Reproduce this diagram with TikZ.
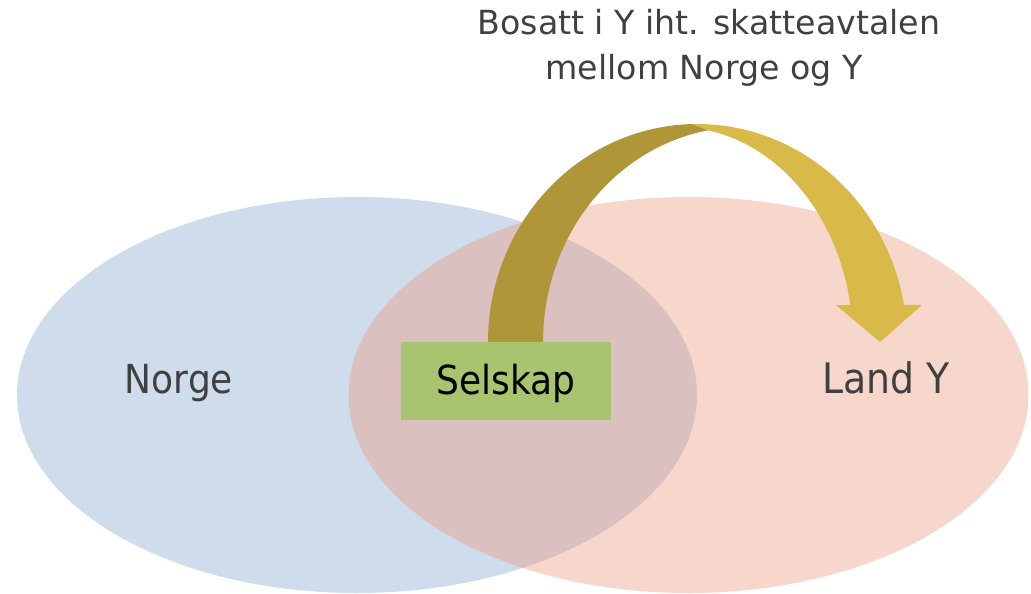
\documentclass[tikz,border=0pt]{standalone}
\usepackage{fontspec}
\setmainfont{DejaVu Sans Condensed}
\newfontfamily\titlefont{DejaVu Sans}
\usetikzlibrary{shapes.geometric}
\definecolor{blueC}{RGB}{207,220,235}
\definecolor{pinkC}{RGB}{235,152,125}
\definecolor{arrowDark}{RGB}{175,150,56}
\definecolor{arrowLight}{RGB}{217,185,72}
\definecolor{boxGreen}{RGB}{169,196,110}
\definecolor{txtGrey}{RGB}{64,64,64}
\tikzset{
  region/.style={ellipse, minimum width=680pt, minimum height=396pt, inner sep=0pt, outer sep=0pt},
  label/.style={text=txtGrey, font=\fontsize{40}{48}\selectfont, inner sep=0pt, anchor=base},
  titletext/.style={text=txtGrey, font=\titlefont\fontsize{33.2}{45}\selectfont, inner sep=0pt, anchor=base},
  box/.style={fill=boxGreen, minimum width=210pt, minimum height=78pt, inner sep=0pt},
  boxtext/.style={font=\fontsize{40}{48}\selectfont, inner sep=0pt, anchor=base}
}
\begin{document}
\begin{tikzpicture}[x=1pt,y=-1pt]
\useasboundingbox (0,0) rectangle (1031,594);
\node[region, fill=blueC] (norge) at (357,395) {};
\node[region, fill=pinkC, fill opacity=0.4] (landy) at (688.5,395) {};
% arrow: back (left) band
\fill[arrowDark]
  plot[domain=180:87, samples=80, smooth] ({697+209*cos(\x)},{342-218*sin(\x)})
  -- plot[domain=100.1:180, samples=80, smooth] ({743+200*cos(\x)},{342-215*sin(\x)}) -- cycle;
% arrow: front (right) band with head
\fill[arrowLight]
  plot[domain=91.4:9.8, samples=80, smooth] ({697+210*cos(\x)},{342-218*sin(\x)})
  -- (922,305) -- (880,342) -- (836,305)
  -- plot[domain=9.9:79.9, samples=80, smooth] ({677+176*cos(\x)},{342-215*sin(\x)}) -- cycle;
\node[box] (selskap) at (506,381) {};
\node[boxtext] (selskaptext) at (506,394) {Selskap};
\node[label] (norgelabel) at (179,393) {Norge};
\node[label, font=\fontsize{42}{48}\selectfont] (landylabel) at (886,393) {Land Y};
\node[titletext] (title1) at (709,35) {Bosatt i Y iht. skatteavtalen};
\node[titletext] (title2) at (704,80) {mellom Norge og Y};
\end{tikzpicture}
\end{document}
